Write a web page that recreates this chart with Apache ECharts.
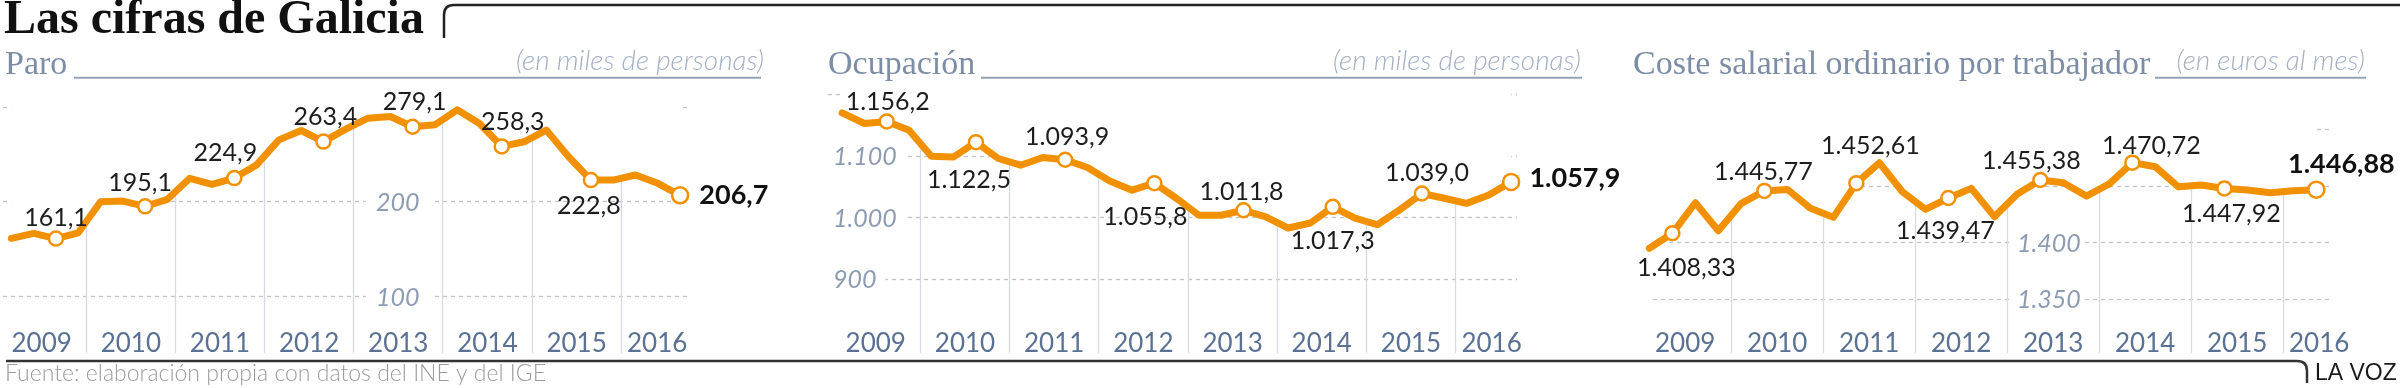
<!DOCTYPE html>
<html><head><meta charset="utf-8">
<script src="https://cdn.jsdelivr.net/npm/echarts@6/dist/echarts.min.js"></script>
<style>html,body{margin:0;padding:0;background:#fff}#c{width:2400px;height:388px}</style>
</head><body><div id="c"></div>
<script>
// ---------- DATA ----------
const years = ['2009','2010','2011','2012','2013','2014','2015','2016'];
// quarterly series (Paro / Ocupación: 2009T1–2016T3; Coste: 2009T1–2016T2)
const paroValues = [161.3,166.6,161.1,167.2,200.0,200.7,195.1,202.5,224.7,218.4,224.9,238.8,265.2,275.1,263.4,276.5,288.1,289.9,279.1,281.1,296.9,282.5,258.3,263.2,275.5,247.4,222.8,222.8,228.2,219.4,206.7];
const ocupacionValues = [1170.1,1152.8,1156.2,1142.0,1099.7,1098.5,1122.5,1095.9,1085.0,1097.6,1093.9,1081.3,1059.5,1044.4,1055.8,1030.9,1003.7,1003.7,1011.8,1001.0,982.9,991.0,1017.3,999.0,988.2,1012.4,1039.0,1031.3,1023.0,1036.6,1057.9];
const costeValues = [1395.1,1408.33,1435.3,1410.6,1434.8,1445.77,1447.1,1430.4,1422.4,1452.61,1470.6,1445.0,1429.5,1439.47,1448.0,1423.0,1443.0,1455.38,1453.0,1441.2,1452.0,1470.72,1467.1,1449.4,1450.9,1447.92,1446.5,1444.1,1445.9,1446.88];
const paroLabeled = [2,6,10,14,18,22,26,30];
const ocupacionLabeled = [2,6,10,14,18,22,26,30];
const costeLabeled = [1,5,9,13,17,21,25,29];
const paroTicks = ['100','200'];
const ocupacionTicks = ['900','1.000','1.100'];
const costeTicks = ['1.350','1.400'];
const mainTitle = 'Las cifras de Galicia';
const panelTitles = ['Paro','Ocupación','Coste salarial ordinario por trabajador'];
const panelUnits = ['(en miles de personas)','(en miles de personas)','(en euros al mes)'];
const sourceText = 'Fuente: elaboración propia con datos del INE y del IGE';
const brandText = 'LA VOZ';

// ---------- LAYOUT / STYLE ----------
const ORANGE = '#f29100';
const SANS = 'Lato, "Open Sans", sans-serif';
const SERIF = '"Liberation Serif", "DejaVu Serif", serif';
const layout = [
  { u0:-3.1, unit:22.29, shift:0.65, uMax:31.14, cal:{v:200,y:201.7,ppu:0.948},
    gridB:{left:3,right:691,min:100,max:300,interval:100}, labelX:366, labelPad:[2,14,0,10], decimals:1,
    place:{2:['top',0,4],6:['top',-5,1],10:['top',-9,0],14:['top',2,0],18:['top',2,0],22:['top',11,0],26:['bottom',-2,1],30:['right',0,0,10]},
    titleX:5, unitRight:764, underline:[74,761] },
  { u0:831, unit:22.3, shift:0.5, uMax:30.76, cal:{v:1000,y:217.5,ppu:0.615},
    gridB:{left:828,right:1517,min:900,max:1200,interval:100}, labelX:827, labelPad:[2,9,0,6], decimals:1,
    place:{2:['top',1,5],6:['bottom',-7,13],10:['top',2,2],14:['bottom',-9,9],18:['top',-2,6],22:['bottom',0,9],26:['top',5,4],30:['right',0,-4,9]},
    titleX:828, unitRight:1581, underline:[981,1582] },
  { u0:1639, unit:23.0, shift:0.45, uMax:30.04, cal:{v:1400,y:242.7,ppu:1.132},
    gridB:{left:1653,right:2330,min:1350,max:1500,interval:50}, labelX:2010, labelPad:[2,4,0,7], decimals:2,
    place:{1:['bottom',14,10],5:['top',-1,6],9:['top',14,-12],13:['bottom',-3,8],17:['top',-9,6],21:['top',19,8],25:['bottom',7,1],29:['top',25,1]},
    titleX:1633, unitRight:2365, underline:[2155,2366] }
];
const TOP_A = 90, BOT_A = 353.3;

function fmt(v, d) {
  const s = v.toFixed(d);
  let parts = s.split('.');
  let ip = parts[0].replace(/\B(?=(\d{3})+(?!\d))/g, '.');
  return parts[1] ? ip + ',' + parts[1] : ip;
}

const panels = [
  {values: paroValues, labeled: paroLabeled, ticks: paroTicks, L: layout[0]},
  {values: ocupacionValues, labeled: ocupacionLabeled, ticks: ocupacionTicks, L: layout[1]},
  {values: costeValues, labeled: costeLabeled, ticks: costeTicks, L: layout[2]}
];

const grid = [], xAxis = [], yAxis = [], series = [], title = [], graphic = [];
const lineEl = (x1, y1, x2, y2, stroke, w) => ({type: 'line', shape: {x1, y1, x2, y2}, style: {stroke, lineWidth: w}, silent: true});
const curveEl = (x1, y1, cx, cy, x2, y2, stroke, w) => ({type: 'bezierCurve', shape: {x1, y1, x2, y2, cpx1: cx, cpy1: cy}, style: {stroke, lineWidth: w, fill: null}, silent: true});

panels.forEach((P, p) => {
  const L = P.L, c = L.cal, gB = L.gridB;
  grid.push({left: L.u0, top: TOP_A, width: L.uMax * L.unit, height: BOT_A - TOP_A, containLabel: false, outerBoundsMode: 'none'});
  const bTop = c.y - (gB.max - c.v) * c.ppu;
  const bBot = c.y + (c.v - gB.min) * c.ppu;
  grid.push({left: gB.left, top: bTop, width: gB.right - gB.left, height: bBot - bTop, containLabel: false, outerBoundsMode: 'none'});

  xAxis.push({
    gridIndex: 2*p, type: 'value', min: 0, max: L.uMax, interval: 4,
    axisLine: {show: false}, axisTick: {show: false},
    splitLine: {show: true, showMinLine: false, showMaxLine: false, lineStyle: {color: '#d3dbe6', width: 1.3}},
    axisLabel: {
      inside: true, margin: -3, align: 'left', showMinLabel: true, showMaxLabel: false, hideOverlap: false,
      formatter: v => {
        const k = Math.round(v / 4);
        if (Math.abs(v - 4*k) > 1e-6 || k >= years.length) return '';
        return (k === years.length - 1 ? '{b|' : '{a|') + years[k] + '}';
      },
      rich: {
        a: {fontFamily: SANS, fontSize: 26, color: '#5a7193', padding: [0,0,0,2*L.unit - 30], lineHeight: 26},
        b: {fontFamily: SANS, fontSize: 26, color: '#5a7193', padding: [0,0,0,6], lineHeight: 26}
      }
    }
  });
  xAxis.push({gridIndex: 2*p+1, type: 'value', min: 0, max: 1, show: false});

  yAxis.push({gridIndex: 2*p, type: 'value', show: false,
    min: c.v - (BOT_A - c.y) / c.ppu, max: c.v + (c.y - TOP_A) / c.ppu});
  yAxis.push({gridIndex: 2*p+1, type: 'value', min: gB.min, max: gB.max, interval: gB.interval, z: 0,
    axisLine: {show: false}, axisTick: {show: false}, axisLabel: {show: false},
    splitLine: {show: true, lineStyle: {color: '#c3c3c3', type: [4,4], width: 1.3}}});
  yAxis.push({gridIndex: 2*p+1, type: 'value', min: gB.min, max: gB.max, interval: gB.interval, z: 1,
    position: 'left', offset: gB.left - L.labelX,
    axisLine: {show: false}, axisTick: {show: false}, splitLine: {show: false},
    axisLabel: {inside: true, margin: 0, hideOverlap: false,
      formatter: v => { const s = fmt(v, 0); return P.ticks.includes(s) ? '{t|' + s + '}' : ''; },
      rich: {t: {fontFamily: SANS, fontStyle: 'italic', fontWeight: 'normal', fontSize: 25, color: '#8e9cb3',
                 backgroundColor: '#fff', padding: L.labelPad}}}});

  const pairs = P.values.map((v, i) => [i + L.shift, v]);
  series.push({type: 'line', xAxisIndex: 2*p, yAxisIndex: 3*p, data: pairs, symbol: 'none',
    lineStyle: {opacity: 0, width: 0}, areaStyle: {color: '#fff', opacity: 1, origin: 'end'},
    z: 2, silent: true, animation: false});

  const items = P.values.map((v, i) => {
    const it = {value: [i + L.shift, v]};
    if (P.labeled.includes(i)) {
      const last = i === P.values.length - 1;
      const pl = L.place[i];
      it.symbol = 'circle';
      it.symbolSize = last ? 16 : 14;
      it.label = {show: true, position: pl[0], offset: [pl[1], pl[2]], distance: pl[3] != null ? pl[3] : 4,
        formatter: fmt(v, L.decimals), fontFamily: SANS, fontSize: last ? 27 : 25,
        fontWeight: last ? 'bold' : 'normal', color: last ? '#111' : '#1d1d1d'};
    }
    return it;
  });
  series.push({type: 'line', xAxisIndex: 2*p, yAxisIndex: 3*p, data: items, symbol: 'none', showSymbol: true,
    lineStyle: {color: ORANGE, width: 7, cap: 'round', join: 'round'},
    itemStyle: {color: '#fff', borderColor: ORANGE, borderWidth: 2.5},
    emphasis: {disabled: true}, z: 3, animation: false, clip: false});

  title.push({text: panelTitles[p], left: L.titleX, top: 48, padding: 0,
    textStyle: {fontFamily: SERIF, fontSize: 34, fontWeight: 'normal', color: '#7e8da6'}});
  title.push({text: panelUnits[p], right: 2400 - L.unitRight, top: 47, padding: 0,
    textStyle: {fontFamily: SANS, fontSize: 28, fontStyle: 'italic', fontWeight: 300, color: '#a4b0c3'}});
  graphic.push(lineEl(L.underline[0], 77.7, L.underline[1], 77.7, '#95a2b7', 2));
});

title.push({text: mainTitle, left: 4, top: -3, padding: 0,
  textStyle: {fontFamily: SERIF, fontSize: 48, fontWeight: 'bold', color: '#111'}});
title.push({text: sourceText, left: 5, top: 362, padding: 0,
  textStyle: {fontFamily: SANS, fontSize: 23, fontWeight: 300, color: '#9c9c9c'}});
title.push({text: brandText, left: 2315, top: 362, padding: 0,
  textStyle: {fontFamily: '"Liberation Sans", Arial, sans-serif', fontSize: 23, fontWeight: 'normal', color: '#1a1a1a'}});

// top bracket rule
graphic.push(lineEl(444, 38, 444, 15, '#222', 2.5));
graphic.push(curveEl(444, 15, 444, 5, 454, 5, '#222', 2.5));
graphic.push(lineEl(454, 5, 2400, 5, '#222', 2.5));
// bottom rule
graphic.push(lineEl(6, 361, 2297, 361, '#333', 2.5));
graphic.push(curveEl(2297, 361, 2307, 361, 2307, 371, '#333', 2.5));
graphic.push(lineEl(2307, 371, 2307, 383, '#333', 2.5));

const chart = echarts.init(document.getElementById('c'), null, {renderer: 'canvas', width: 2400, height: 388});
chart.setOption({animation: false, backgroundColor: '#fff', title, grid, xAxis, yAxis, series, graphic: {elements: graphic}});
</script>
</body></html>
